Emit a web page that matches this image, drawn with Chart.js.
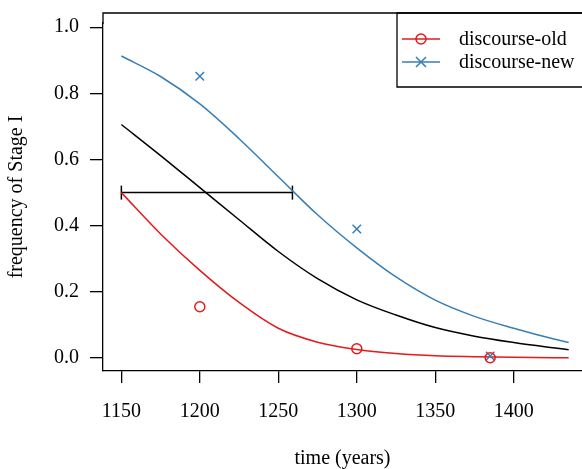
<!DOCTYPE html>
<html>
<head>
<meta charset="utf-8">
<script src="https://cdn.jsdelivr.net/npm/chart.js@4"></script>
<style>
  body { margin: 0; background: #fff; }
  canvas { display: block; }
</style>
</head>
<body>
<canvas id="grafico" width="582" height="469"></canvas>
<script>
// ticks
var xTicks = [1150, 1200, 1250, 1300, 1350, 1400];
var yTicks = [0, 0.2, 0.4, 0.6, 0.8, 1.0];

// observed points
var obsYears = [1200, 1300, 1385];
var oldObs = [0.155, 0.028, 0.001];
var newObs = [0.852, 0.39, 0.006];

// fitted curves
var fitYears = [1150, 1175, 1200, 1225, 1250, 1275, 1300, 1325, 1350, 1375, 1400, 1425, 1435];
var oldFit = [0.50, 0.375, 0.265, 0.168, 0.09, 0.048, 0.026, 0.014, 0.007, 0.004, 0.002, 0.001, 0.001];
var newFit = [0.913, 0.851, 0.768, 0.663, 0.548, 0.433, 0.333, 0.245, 0.175, 0.126, 0.09, 0.058, 0.047];
var meanFit = [0.706, 0.612, 0.515, 0.418, 0.322, 0.24, 0.176, 0.13, 0.092, 0.066, 0.047, 0.031, 0.025];

// horizontal interval
var spanYears = [1150, 1259];
var spanLevel = 0.5;

var red = '#E41A1C';
var blue = '#377EB8';
var fonte = '"Liberation Serif", "Times New Roman", serif';
var topoCaixa = 13;

function pares(xs, ys) {
    return xs.map(function(x, i) { return { x: x, y: ys[i] }; });
}

// caixa do gráfico e legenda
var caixa = {
    id: 'caixa',
    afterDraw: function(chart) {
        var c = chart.ctx, a = chart.chartArea;
        c.save();
        c.strokeStyle = '#000';
        c.lineWidth = 1.3;
        c.beginPath();
        c.moveTo(a.left, a.top + 1);
        c.lineTo(a.left, topoCaixa);
        c.lineTo(chart.width + 2, topoCaixa);
        c.stroke();

        // legenda
        c.beginPath();
        c.rect(397, topoCaixa, chart.width, 74);
        c.stroke();
        var itens = [chart.data.datasets[0], chart.data.datasets[1]];
        itens.forEach(function(ds, i) {
            var y = topoCaixa + 26 + i * 23;
            c.strokeStyle = ds.borderColor;
            c.lineWidth = 1.5;
            c.beginPath();
            c.moveTo(402, y);
            c.lineTo(440, y);
            c.stroke();
            c.beginPath();
            if (ds.pointStyle === 'circle') {
                c.arc(421, y, 5, 0, Math.PI * 2);
            } else {
                c.moveTo(416, y - 5); c.lineTo(426, y + 5);
                c.moveTo(416, y + 5); c.lineTo(426, y - 5);
            }
            c.stroke();
            c.fillStyle = '#000';
            c.font = '20px ' + fonte;
            c.textBaseline = 'middle';
            c.textAlign = 'left';
            c.fillText(ds.label, 459, y + 1);
        });
        c.restore();
    }
};

document.addEventListener("DOMContentLoaded", function() {
    var ctx = document.getElementById('grafico').getContext('2d');
    new Chart(ctx, {
        type: 'scatter',
        data: {
            datasets: [{
                label: 'discourse-old',
                data: pares(obsYears, oldObs),
                pointStyle: 'circle',
                radius: 5,
                borderColor: red,
                backgroundColor: 'transparent',
                borderWidth: 1.5
            }, {
                label: 'discourse-new',
                data: pares(obsYears, newObs),
                pointStyle: 'crossRot',
                radius: 6,
                borderColor: blue,
                backgroundColor: 'transparent',
                borderWidth: 1.5
            }, {
                label: 'fit-old',
                data: pares(fitYears, oldFit),
                showLine: true,
                pointRadius: 0,
                borderColor: red,
                borderWidth: 1.5,
                cubicInterpolationMode: 'monotone'
            }, {
                label: 'fit-new',
                data: pares(fitYears, newFit),
                showLine: true,
                pointRadius: 0,
                borderColor: blue,
                borderWidth: 1.5,
                cubicInterpolationMode: 'monotone'
            }, {
                label: 'fit-mean',
                data: pares(fitYears, meanFit),
                showLine: true,
                pointRadius: 0,
                borderColor: '#000',
                borderWidth: 1.5,
                cubicInterpolationMode: 'monotone'
            }, {
                label: 'span',
                data: pares(spanYears, [spanLevel, spanLevel]),
                showLine: true,
                pointStyle: 'line',
                rotation: 90,
                radius: 7,
                borderColor: '#000',
                borderWidth: 1.5
            }]
        },
        options: {
            responsive: false,
            devicePixelRatio: 1,
            animation: false,
            layout: { autoPadding: false, padding: { top: 4, right: 0, left: 0, bottom: 0 } },
            plugins: {
                legend: { display: false },
                tooltip: { enabled: false }
            },
            scales: {
                x: {
                    type: 'linear',
                    min: 1138.3,
                    max: 1443.5,
                    afterBuildTicks: function(s) { s.ticks = xTicks.map(function(v) { return { value: v }; }); },
                    afterFit: function(s) { s.height = 98; },
                    grid: { drawOnChartArea: false, drawTicks: true, tickLength: 12, color: '#000', lineWidth: 1.3 },
                    border: { display: true, color: '#000', width: 1.3 },
                    ticks: { color: '#000', font: { family: fonte, size: 20 }, padding: 17, maxRotation: 0, callback: function(v) { return String(v); } },
                    title: { display: true, text: 'time (years)', color: '#000', font: { family: fonte, size: 20 }, padding: { top: 0, bottom: -2 } }
                },
                y: {
                    type: 'linear',
                    min: -0.0392,
                    max: 1.0127,
                    afterBuildTicks: function(s) { s.ticks = yTicks.map(function(v) { return { value: v }; }); },
                    afterFit: function(s) { s.width = 103; },
                    grid: { drawOnChartArea: false, drawTicks: true, tickLength: 13, color: '#000', lineWidth: 1.3 },
                    border: { display: true, color: '#000', width: 1.3 },
                    ticks: { color: '#000', font: { family: fonte, size: 20 }, padding: 11, callback: function(v) { return v.toFixed(1); } },
                    title: { display: true, text: 'frequency of Stage I', color: '#000', font: { family: fonte, size: 20 }, padding: { top: 5, bottom: 0 } }
                }
            }
        },
        plugins: [caixa]
    });
});
</script>
</body>
</html>
